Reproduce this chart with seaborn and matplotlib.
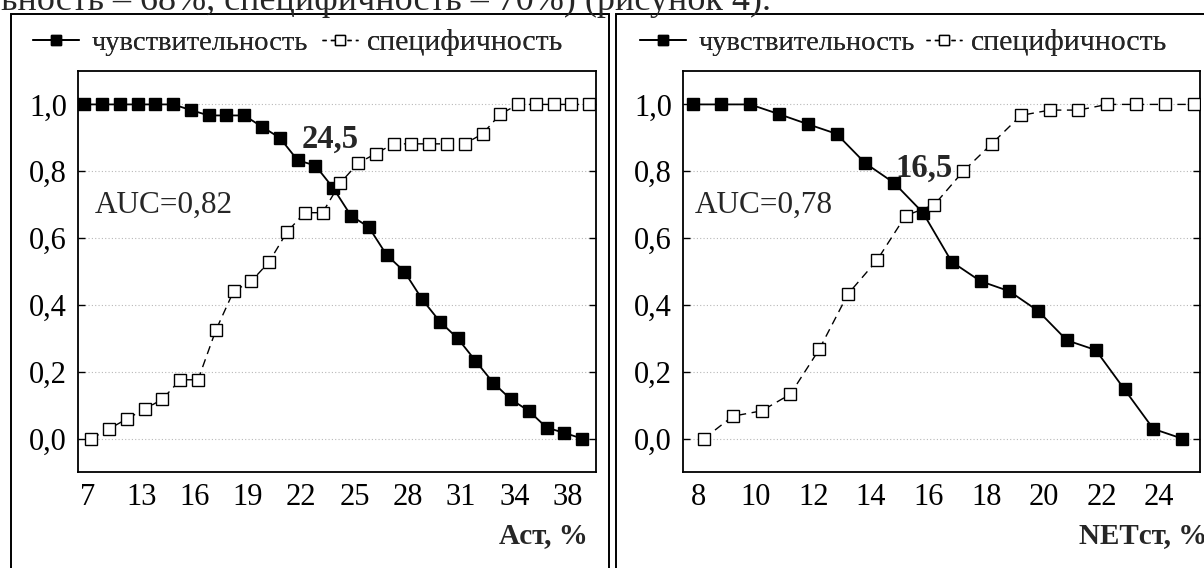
import numpy as np
import pandas as pd
import matplotlib
matplotlib.use("Agg")
import matplotlib.pyplot as plt
import seaborn as sns
from matplotlib.patches import Rectangle
from matplotlib.lines import Line2D

# ---------------- data ----------------
left_sens = [1.0, 1.0, 1.0, 1.0, 1.0, 1.0, 0.983, 0.967, 0.967, 0.967, 0.933, 0.9,
             0.833, 0.817, 0.75, 0.667, 0.633, 0.55, 0.5, 0.417, 0.35, 0.3, 0.233,
             0.167, 0.117, 0.083, 0.033, 0.017, 0.0]
left_spec = [0.0, 0.029, 0.059, 0.088, 0.118, 0.176, 0.176, 0.324, 0.441, 0.471, 0.529,
             0.618, 0.676, 0.676, 0.765, 0.824, 0.853, 0.882, 0.882, 0.882, 0.882, 0.882,
             0.912, 0.971, 1.0, 1.0, 1.0, 1.0, 1.0]
left_tick_labels = ["7", "13", "16", "19", "22", "25", "28", "31", "34", "38"]
left_tick_step = 3
left_xlabel = "Аст, %"
left_cut = "24,5"
left_auc = "AUC=0,82"

right_sens = [1.0, 1.0, 1.0, 0.971, 0.941, 0.912, 0.824, 0.765, 0.676, 0.529, 0.471,
              0.441, 0.382, 0.294, 0.265, 0.147, 0.029, 0.0]
right_spec = [0.0, 0.067, 0.083, 0.133, 0.267, 0.433, 0.533, 0.667, 0.7, 0.8, 0.883,
              0.967, 0.983, 0.983, 1.0, 1.0, 1.0, 1.0]
right_tick_labels = ["8", "10", "12", "14", "16", "18", "20", "22", "24"]
right_tick_step = 2
right_xlabel = "NETст, %"
right_cut = "16,5"
right_auc = "AUC=0,78"

y_ticks = [0.0, 0.2, 0.4, 0.6, 0.8, 1.0]
y_tick_labels = ["0,0", "0,2", "0,4", "0,6", "0,8", "1,0"]
series_names = ["чувствительность", "специфичность"]
top_text = "ьность – 68%, специфичность – 70%) (рисунок 4)."

# ---------------- style ----------------
W, H = 1204, 568
sns.set_theme(style="white")
plt.rcParams['font.family'] = ['Liberation Serif', 'DejaVu Serif']
FS = 22
SHIFT = 0.2
MS = 8.5

fig = plt.figure(figsize=(W / 100, H / 100), dpi=100)
fig.patch.set_facecolor("white")

axL = fig.add_axes([78 / W, 1 - 472 / H, 518 / W, 401 / H])
axR = fig.add_axes([683 / W, 1 - 472 / H, 517 / W, 401 / H])


def draw(ax, sens, spec, tick_step, tick_labels, xlim, cut_txt, cut_xy, auc_txt, auc_xy):
    n = len(sens)
    idx = np.arange(n)
    df = pd.DataFrame({"xs": idx - SHIFT, "sens": sens, "xp": idx + SHIFT, "spec": spec})
    sns.lineplot(data=df, x="xs", y="sens", ax=ax, errorbar=None, color="black",
                 linewidth=1.3, marker="s", markersize=MS, markerfacecolor="black",
                 markeredgecolor="black", markeredgewidth=1.0, zorder=3)
    sns.lineplot(data=df, x="xp", y="spec", ax=ax, errorbar=None, color="black",
                 linewidth=1.0, linestyle=(0, (6, 4)), marker="s", markersize=MS,
                 markerfacecolor="white", markeredgecolor="black",
                 markeredgewidth=1.0, zorder=4)
    ax.set_xlim(*xlim)
    ax.set_ylim(-0.1, 1.1)
    ax.set_yticks(y_ticks)
    ax.set_yticklabels(y_tick_labels)
    ax.set_xticks(idx[::tick_step][:len(tick_labels)])
    ax.set_xticklabels(tick_labels)
    ax.set_xlabel("")
    ax.set_ylabel("")
    ax.yaxis.grid(True, linestyle=(0, (1, 2)), color="#b8b8b8", linewidth=0.8)
    ax.xaxis.grid(False)
    ax.set_axisbelow(True)
    for s in ax.spines.values():
        s.set_color("black")
        s.set_linewidth(1.3)
    ax.tick_params(axis="x", length=0, pad=8, labelsize=FS, colors="black")
    ax.tick_params(axis="y", direction="in", length=5, width=1.0, left=True, right=True,
                   pad=8, labelsize=FS, colors="black")
    ax.text(cut_xy[0], cut_xy[1], cut_txt, fontsize=FS + 1.5, fontweight="bold",
            ha="center", va="center", zorder=5)
    ax.text(auc_xy[0], auc_xy[1], auc_txt, fontsize=FS + 0.5, ha="left", va="center",
            zorder=5)


draw(axL, left_sens, left_spec, left_tick_step, left_tick_labels, (-0.55, 28.58),
     left_cut, (13.65, 0.896), left_auc, (0.37, 0.698))
draw(axR, right_sens, right_spec, right_tick_step, right_tick_labels, (-0.53, 17.42),
     right_cut, (7.85, 0.808), right_auc, (-0.13, 0.698))

# outer frames
fig.add_artist(Rectangle((10.7 / W, -0.1), (609 - 10.7) / W, 1.1 - 14 / H,
                         transform=fig.transFigure, fill=False, ec="black", lw=1.4,
                         clip_on=False))
fig.add_artist(Rectangle((616 / W, -0.1), 0.6, 1.1 - 14 / H,
                         transform=fig.transFigure, fill=False, ec="black", lw=1.4,
                         clip_on=False))

# axis labels
fig.text(588 / W, 1 - 536 / H, left_xlabel, fontsize=FS - 1, fontweight="bold",
         ha="right", va="center")
fig.text(1207 / W, 1 - 536 / H, right_xlabel, fontsize=FS - 1, fontweight="bold",
         ha="right", va="center")

# top clipped document text
fig.text(1 / W, 1 - 9.5 / H, top_text, fontsize=26, ha="left", va="baseline")

# legends
h_sens = Line2D([], [], color="black", lw=1.3, marker="s", markersize=MS - 1,
                markerfacecolor="black", markeredgecolor="black")
h_spec = Line2D([], [], color="black", lw=1.0, linestyle=(0, (3, 3)), marker="s",
                markersize=MS - 1, markerfacecolor="white", markeredgecolor="black")
for x_sens, x_spec in [(33, 322), (640, 926)]:
    lg1 = fig.legend([h_sens], [series_names[0]], loc="center left",
                     bbox_to_anchor=(x_sens / W, 1 - 43 / H), frameon=False,
                     fontsize=20.5, handlelength=1.6, handletextpad=0.45,
                     borderpad=0, borderaxespad=0)
    fig.add_artist(lg1)
    lg2 = fig.legend([h_spec], [series_names[1]], loc="center left",
                     bbox_to_anchor=(x_spec / W, 1 - 43 / H), frameon=False,
                     fontsize=21.5, handlelength=1.2, handletextpad=0.3,
                     borderpad=0, borderaxespad=0)
    fig.add_artist(lg2)

fig.savefig("out.png", dpi=100, facecolor="white")
